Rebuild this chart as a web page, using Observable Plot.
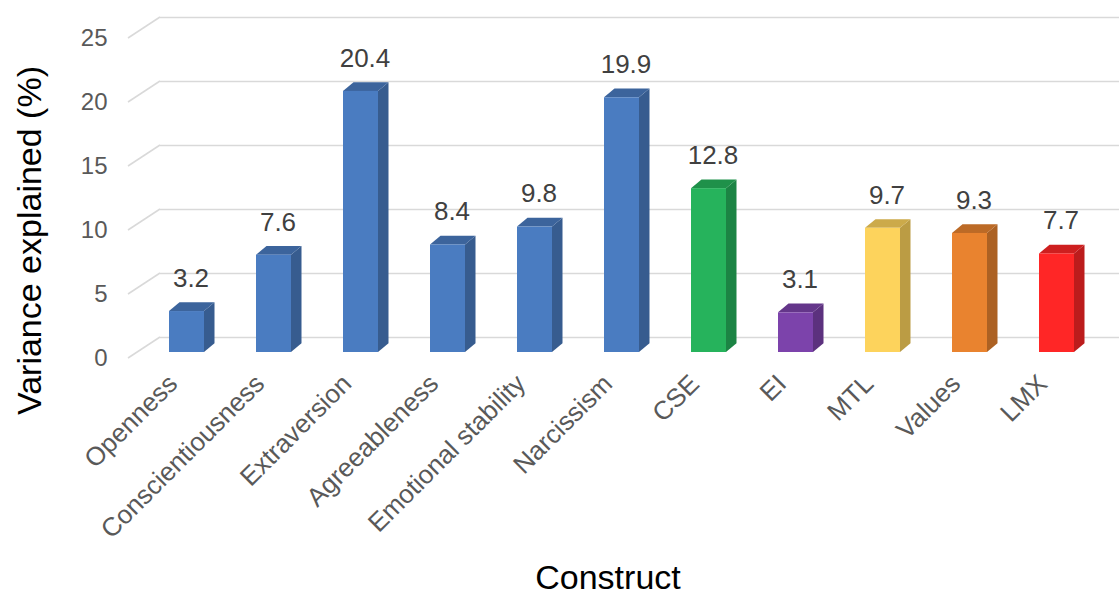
<!DOCTYPE html>
<html><head><meta charset="utf-8">
<script src="https://cdn.jsdelivr.net/npm/d3@7"></script>
<script src="https://cdn.jsdelivr.net/npm/@observablehq/plot@0.6"></script>
<style>body{margin:0;background:#fff;} svg{display:block;}</style>
</head><body><div id="chart"></div>
<script>
const constructs = ["Openness","Conscientiousness","Extraversion","Agreeableness","Emotional stability","Narcissism","CSE","EI","MTL","Values","LMX"];
const variance = [3.2,7.6,20.4,8.4,9.8,19.9,12.8,3.1,9.7,9.3,7.7];
const barColors = ["#4a7cc1","#4a7cc1","#4a7cc1","#4a7cc1","#4a7cc1","#4a7cc1","#26b35c","#7c43ab","#fdd35c","#e9832f","#ff2626"];
const yTicks = [0,5,10,15,20,25];
const yTitle = "Variance explained (%)";
const xTitle = "Construct";

const data = constructs.map((c, i) => ({construct: c, value: variance[i], color: barColors[i]}));

const DX = 10.5, DY = 8.7;      // bar depth
const WALL = -15;               // back wall offset
const font = "'Liberation Sans', Arial, sans-serif";

function getScale(scales, k) {
  let s = scales[k];
  if (typeof s !== "function" && scales.scales) s = scales.scales[k];
  return s;
}

function depthFaces(index, scales, values, dims) {
  const x = getScale(scales, "x"), y = getScale(scales, "y");
  const bw = typeof x.bandwidth === "function" ? x.bandwidth() : x.bandwidth;
  const g = d3.create("svg:g");
  for (const d of data) {
    const x0 = x(d.construct), x1 = x0 + bw, y0 = y(0), y1 = y(d.value);
    const c = d3.color(d.color);
    g.append("polygon")
      .attr("points", [[x1, y1], [x1 + DX, y1 - DY], [x1 + DX, y0 - DY], [x1, y0]].map(p => p.join(",")).join(" "))
      .attr("fill", c.darker(0.85).formatHex());
    g.append("polygon")
      .attr("points", [[x0, y1], [x0 + DX, y1 - DY], [x1 + DX, y1 - DY], [x1, y1]].map(p => p.join(",")).join(" "))
      .attr("fill", c.darker(0.6).formatHex());
  }
  return g.node();
}

function wallDiagonals(index, scales, values, dims) {
  const y = getScale(scales, "y");
  const g = d3.create("svg:g").attr("stroke", "#d9d9d9").attr("stroke-width", 1.5).attr("fill", "none");
  for (const t of yTicks) {
    g.append("line")
      .attr("x1", dims.marginLeft - 32).attr("y1", y(t) + 6)
      .attr("x2", dims.marginLeft).attr("y2", y(t) + WALL);
  }
  return g.node();
}

const chart = Plot.plot({
  width: 1119,
  height: 595,
  marginTop: 32,
  marginBottom: 243,
  marginLeft: 160,
  marginRight: 0,
  style: {fontFamily: font, color: "#595959", background: "#fff"},
  x: {domain: constructs, range: [139.2, 1102.8], paddingInner: 0.6, paddingOuter: 0.3, label: null},
  y: {domain: [0, 25], label: null},
  color: {type: "identity"},
  marks: [
    Plot.ruleY(yTicks, {dy: WALL, stroke: "#d9d9d9", strokeWidth: 1.5}),
    wallDiagonals,
    Plot.axisY({ticks: yTicks, tickSize: 0, tickPadding: 53, dy: 6, fontSize: 24, label: null}),
    Plot.axisX({tickRotate: -45, tickSize: 0, tickPadding: 27, dx: -14, fontSize: 26, label: null}),
    depthFaces,
    Plot.barY(data, {x: "construct", y: "value", fill: "color"}),
    Plot.text(data, {x: "construct", y: "value", text: d => d.value.toFixed(1), dy: -33, dx: 4, fontSize: 26, fill: "#404040"}),
    Plot.text([yTitle], {text: d => d, frameAnchor: "left", textAnchor: "middle", lineAnchor: "middle", rotate: -90, dx: -130, dy: 48, fontSize: 34, fill: "#000"}),
    Plot.text([xTitle], {text: d => d, frameAnchor: "bottom", textAnchor: "middle", lineAnchor: "middle", dx: -32, dy: 226, fontSize: 34, fill: "#000"})
  ]
});
document.getElementById("chart").appendChild(chart);
</script>
</body></html>
